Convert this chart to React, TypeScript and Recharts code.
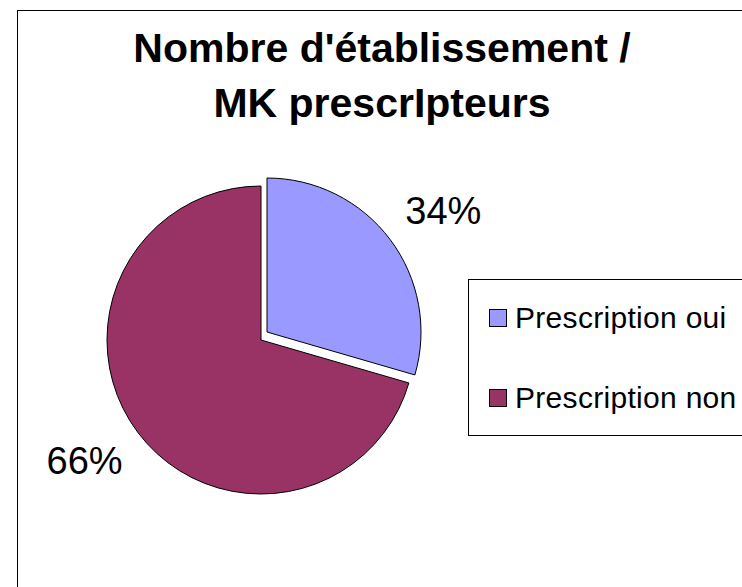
import { PieChart, Pie, Cell, Legend } from 'recharts'

// Slice sizes; the data labels carry their own text.
const categories = ['Prescription oui', 'Prescription non']
const sliceValues = [29.5, 70.5]
const sliceLabels = ['34%', '66%']
const colors = ['#9999FF', '#993366']

const titleLines = ["Nombre d'établissement /", 'MK prescrIpteurs']

const data = categories.map((name, i) => ({ name, value: sliceValues[i], label: sliceLabels[i] }))

const FONT = '"Liberation Sans", Arial, sans-serif'
const RADIAN = Math.PI / 180

// Label sits well outside the slice, a touch clockwise of its mid angle.
function makeLabel(visibleIndex: number) {
  return (props: any) => {
    const { cx, cy, midAngle, outerRadius, index } = props
    if (index !== visibleIndex) return null
    const r = outerRadius + 60
    const a = (midAngle - 2.4) * RADIAN
    const x = cx + r * Math.cos(-a)
    const y = cy + r * Math.sin(-a)
    return (
      <text
        x={x}
        y={y}
        textAnchor="middle"
        dominantBaseline="central"
        fontFamily={FONT}
        fontSize={38}
        fill="#000"
      >
        {data[index].label}
      </text>
    )
  }
}

function LegendBox() {
  return (
    <div
      style={{
        border: '1px solid #000',
        width: 320,
        height: 157,
        boxSizing: 'border-box',
        background: '#fff',
        fontFamily: FONT,
        fontSize: 30,
        letterSpacing: 0.3,
        paddingTop: 18,
        paddingLeft: 20,
      }}
    >
      {categories.map((name, i) => (
        <div key={name} style={{ display: 'flex', alignItems: 'center', height: 40, marginBottom: i === 0 ? 40 : 0 }}>
          <span
            style={{
              display: 'inline-block',
              width: 16,
              height: 16,
              background: colors[i],
              border: '1px solid #000',
              marginRight: 8,
            }}
          />
          <span style={{ whiteSpace: 'nowrap' }}>{name}</span>
        </div>
      ))}
    </div>
  )
}

export default function App() {
  return (
    <div style={{ position: 'absolute', left: 0, top: 0, width: 742, height: 587, overflow: 'hidden', background: '#fff' }}>
      <div
        style={{
          position: 'absolute',
          left: 17,
          top: 10,
          width: 800,
          height: 700,
          border: '1px solid #000',
        }}
      />
      <div
        style={{
          position: 'absolute',
          left: 0,
          top: 21,
          width: 764,
          textAlign: 'center',
          fontFamily: FONT,
          fontWeight: 'bold',
          fontSize: 41,
          lineHeight: '55px',
        }}
      >
        {titleLines.map((t) => (
          <div key={t}>{t}</div>
        ))}
      </div>
      <div style={{ position: 'absolute', left: 0, top: 0 }}>
        <PieChart width={742} height={587}>
          {/* maroon slice stays in place */}
          <Pie
            data={data}
            dataKey="value"
            cx={256}
            cy={335}
            outerRadius={154}
            startAngle={90}
            endAngle={-270}
            stroke="#000"
            strokeWidth={1}
            label={makeLabel(1)}
            labelLine={false}
            isAnimationActive={false}
          >
            {data.map((d, i) => (
              <Cell key={d.name} fill={i === 1 ? colors[1] : 'transparent'} stroke={i === 1 ? '#000' : 'none'} />
            ))}
          </Pie>
          {/* blue slice pulled out */}
          <Pie
            data={data}
            dataKey="value"
            cx={262}
            cy={327}
            outerRadius={154}
            startAngle={90}
            endAngle={-270}
            stroke="#000"
            strokeWidth={1}
            label={makeLabel(0)}
            labelLine={false}
            isAnimationActive={false}
          >
            {data.map((d, i) => (
              <Cell key={d.name} fill={i === 0 ? colors[0] : 'transparent'} stroke={i === 0 ? '#000' : 'none'} />
            ))}
          </Pie>
          <Legend
            content={() => <LegendBox />}
            wrapperStyle={{ position: 'absolute', left: 468, top: 279, width: 320 }}
          />
        </PieChart>
      </div>
    </div>
  )
}
